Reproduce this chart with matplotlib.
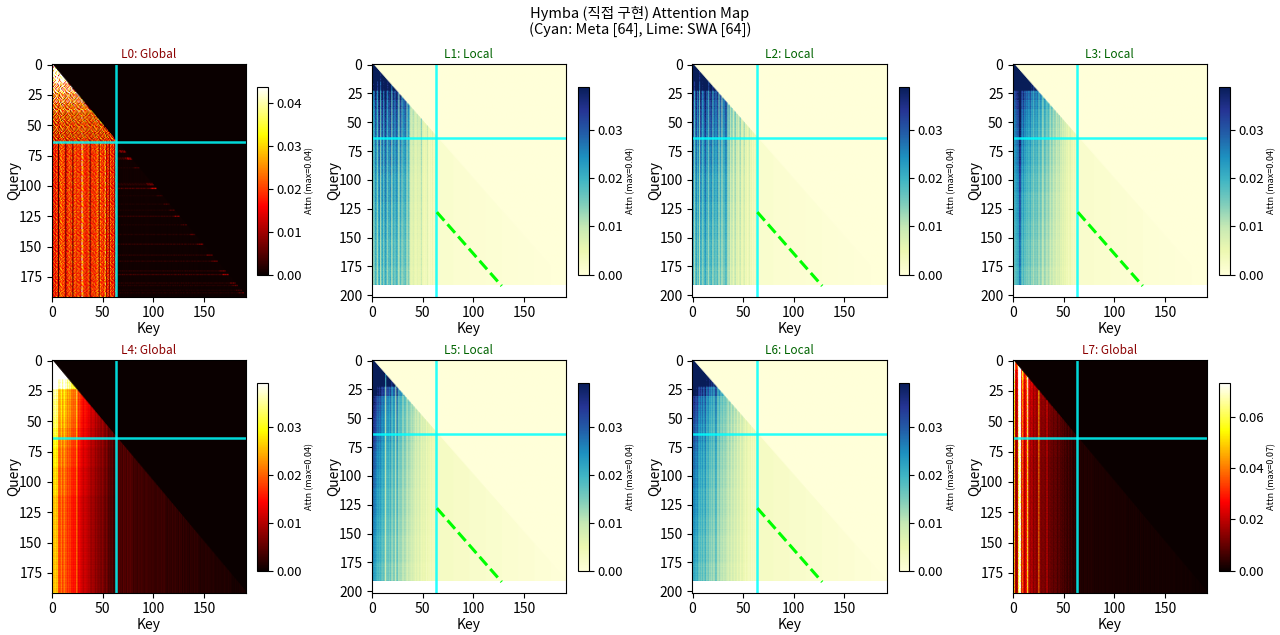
import numpy as np
import matplotlib
matplotlib.use("Agg")
import matplotlib.pyplot as plt

plt.rcParams['font.family'] = ['Noto Sans CJK KR', 'DejaVu Sans']

TOTAL = 192
META = 64
SWA = 64

titles = ["L0: Global", "L1: Local", "L2: Local", "L3: Local",
          "L4: Global", "L5: Local", "L6: Local", "L7: Global"]
kinds = ["G", "L", "L", "L", "G", "L", "L", "G"]
vmaxes = [0.0437, 0.0388, 0.0388, 0.0388, 0.0392, 0.0392, 0.0392, 0.0733]
max_labels = ["0.04", "0.04", "0.04", "0.04", "0.04", "0.04", "0.04", "0.07"]
cbar_ticks = [
    [0, .01, .02, .03, .04], [0, .01, .02, .03], [0, .01, .02, .03], [0, .01, .02, .03],
    [0, .01, .02, .03], [0, .01, .02, .03], [0, .01, .02, .03], [0, .02, .04, .06],
]

# Meta-column strength per key (x 0.001), read at mid-height of each panel
col_L0 = [20,18,21,17,22,19,3,22,24,25,21,23,20,8,18,21,22,24,20,23,7,19,25,22,18,24,20,21,15,38,26,19,
          21,17,20,22,24,6,18,23,20,22,19,21,26,24,8,27,20,22,18,24,30,10,19,21,9,25,20,18,22,12,20,16]
col_L1 = [22,16,18,24,20,14,24,26,12,22,25,16,23,27,20,15,24,21,26,11,20,24,17,22,25,19,9,21,24,13,20,18,
          22,21,10,19,17,8,7,6,9,7,6,5,8,6,7,5,12,6,5,4,5,4,8,4,3,4,3,5,3,3,4,3]
col_L2 = [20,24,14,22,25,18,23,12,26,22,16,20,24,27,19,21,13,24,22,25,14,20,23,18,21,24,11,19,22,9,20,17,
          21,24,19,8,18,7,10,12,6,8,14,7,9,6,8,12,6,5,7,10,5,6,4,5,8,4,5,3,4,3,4,3]
col_L3 = [16,20,22,23,24,25,33,31,22,20,24,19,21,18,20,17,19,21,15,18,13,20,16,17,19,12,16,18,14,9,15,17,
          13,12,14,15,8,12,13,9,10,12,7,10,8,11,7,9,6,8,6,7,5,6,4,5,6,4,4,3,4,3,3,3]
col_L4 = [28,27,27,28,26,27,19,19,20,23,18,21,23,19,20,17,20,17,19,15,17,15,17,15,24,13,14,15,12,13,11,11,
          13,11,12,10,11,10,8,10,9,10,7,9,8,7,8,7,6,8,7,6,5,7,6,4,5,4,4,5,3,3,4,3]
col_L5 = [30,29,28,27,25,23,24,22,24,21,20,22,18,8,21,19,20,17,22,14,16,20,17,8,23,18,11,17,14,16,8,15,
          13,14,7,13,11,12,8,11,9,10,6,9,8,6,9,8,5,7,6,6,7,4,6,5,5,4,5,4,4,4,3,3]
col_L6 = [24,26,27,25,24,26,21,20,22,19,23,18,21,24,16,19,20,15,18,14,19,13,17,22,18,11,15,16,10,14,13,10,
          14,11,12,8,11,12,7,10,11,7,9,10,6,8,9,5,7,8,6,6,4,6,5,4,4,5,3,4,3,4,3,3]
col_L7 = [30,46,18,14,20,60,75,68,20,38,24,16,22,30,56,18,20,14,20,16,12,18,14,13,16,40,12,14,10,15,11,13,
          9,23,9,11,12,8,12,7,10,9,11,6,8,10,7,8,6,8,5,7,6,4,7,5,4,6,4,3,5,3,4,3]
columns = [col_L0, col_L1, col_L2, col_L3, col_L4, col_L5, col_L6, col_L7]

# Strength of each 8-query block relative to the mid-height reading
rows_L0 = [3.5,3.0,1.8,1.35,1.15,1,.95,.9,.9,.9,.9,.9,.9,.9,.9,.9,.9,.9,.9,.9,.9,.9,.9,.9]
rows_L1 = [3,3,2.4,1.6,1.45,1.35,1.3,1.25,1.15,1.1,1.1,1.05,1,1,1,.95,.95,.9,.9,.85,.85,.85,.8,.8]
rows_L2 = [3,3,2.4,1.5,1.4,1.35,1.3,1.25,1.15,1.1,1.1,1.05,1,1,1,.95,.95,.9,.9,.85,.85,.85,.8,.8]
rows_L3 = [3,3,2.4,1.5,1.4,1.3,1.25,1.2,1.15,1.1,1.1,1.05,1,1,.95,.95,.95,.9,.9,.85,.85,.85,.8,.8]
rows_L4 = [3,3,1.9,1.3,1.25,1.25,1.2,1.15,1.1,1.05,1.05,1,1,1,.95,.95,.95,.95,.95,.95,.95,.95,.95,.95]
rows_L5 = [3,3,2.4,1.6,1.3,1.25,1.2,1.2,1.15,1.1,1.05,1.05,1,1,.95,.95,.95,.9,.9,.85,.85,.85,.8,.8]
rows_L6 = [3,3,2.4,1.6,1.3,1.25,1.2,1.15,1.15,1.1,1.05,1.05,1,1,.95,.95,.95,.9,.9,.85,.85,.85,.8,.8]
rows_L7 = [2,1.5,1.3,1.2,1.15,1.15,1.1,1.1,1.05,1.05,1,1,1,1,1,1,1,1,1,1,1,1,1,1]
row_scales = [rows_L0, rows_L1, rows_L2, rows_L3, rows_L4, rows_L5, rows_L6, rows_L7]
row_jitter = [1.03,.97,1.01,.96,1.04,.99,1.02,.97,1.0,1.03,.98]

# SWA/tail columns, per 16-key block (x 0.001)
tail_L0 = [.5,.5,.4,.4,.4,.3,.3,.3]
tail_L1 = [1.4,1.1,.9,.7,.6,.4,.25,.1]
tail_L2 = [1.4,1.1,.9,.7,.6,.4,.25,.1]
tail_L3 = [1.6,1.3,1.0,.8,.6,.4,.25,.1]
tail_L4 = [4,3.2,2.8,2.4,2,1.6,1.3,.8]
tail_L5 = [2.6,2.2,1.8,1.5,1.2,.8,.5,.2]
tail_L6 = [2.6,2.2,1.8,1.5,1.2,.8,.5,.2]
tail_L7 = [2.5,2,1.8,1.5,1.3,1.2,1,.7]
tails = [tail_L0, tail_L1, tail_L2, tail_L3, tail_L4, tail_L5, tail_L6, tail_L7]

# How strongly the cell-level speckle shows in each panel
speckle = [.8, .15, .12, .06, .04, .05, .05, .25]
L0_top_speckle = 1.5

# Cell-level speckle, read as a repeating patch from the L0 panel
texture = [
    [1.3,.7,1.1,.6,1.5,.9,1.2,.5,1.0,1.4,.8],
    [.8,1.2,.6,1.4,.9,1.1,.7,1.3,.6,1.0,1.5],
    [1.1,.5,1.4,1.0,.7,1.5,.9,.8,1.3,.6,1.2],
    [.6,1.3,.9,.7,1.2,.6,1.4,1.1,.8,1.5,.9],
    [1.4,1.0,.7,1.5,.8,1.3,.6,1.2,.9,.7,1.1],
    [.9,.6,1.2,.8,1.4,.7,1.0,1.5,.5,1.2,1.3],
    [1.2,1.5,.8,1.1,.6,1.0,1.3,.7,1.4,.9,.6],
    [.7,.9,1.3,.6,1.1,1.4,.8,1.0,1.2,.5,1.5],
    [1.5,.8,1.0,1.3,.7,.9,1.2,.6,1.1,1.4,.7],
    [.6,1.1,.7,1.2,1.5,.8,.5,1.3,1.0,.9,1.2],
    [1.0,1.4,.9,.5,1.0,1.2,1.1,.8,.7,1.3,.9],
    [1.3,.6,1.5,.9,.8,.6,1.4,1.0,1.2,.7,1.1],
    [.8,1.2,.7,1.4,1.1,1.3,.9,.6,1.5,1.0,.8],
]
tail_stripes = [1.15,.9,1.0,.75,1.2,.95,1.05,.8,1.25,.9,1.0]

# L0 faint horizontal streaks in the tail region
streak_rows = [71,72,77,78,85,98,99,102,108,115,120,125,132,140,148,157,162,170,173,180,182,186,188]
streak_vals = [2,2.5,3,2.5,1.2,1.5,2,4,1,1.2,1.2,2.5,1.2,1.5,2.5,2,2,2,3,2,1.5,1.2,1.5]
near_diagonal_boost = 3
L0_top_level = 20


def build(i):
    data = np.full((TOTAL, TOTAL), np.nan)
    col = np.array(columns[i], float)
    tail = np.repeat(np.array(tails[i], float), 16)
    strength = np.repeat(np.array(row_scales[i], float), 8)
    tex = np.array(texture, float)
    stripes = np.array(tail_stripes, float)
    for q in range(TOTAL):
        jitter = row_jitter[q % len(row_jitter)]
        for k in range(TOTAL):
            if k > q:
                data[q, k] = 0
                continue
            raw = tex[q % tex.shape[0], k % tex.shape[1]]
            t = 1 + speckle[i] * (raw - 1)
            if k < META:
                level = col[k]
                if i == 0 and q < META:
                    level = .25 * col[k] + .75 * L0_top_level
                    t = max(.2, 1 + L0_top_speckle * (raw - 1))
                data[q, k] = level * strength[q] * t * jitter
            else:
                v = tail[k - META]
                if kinds[i] == "G":
                    v = v * stripes[k % len(stripes)]
                data[q, k] = v
    if i == 0:
        for r, v in zip(streak_rows, streak_vals):
            for k in range(META, r + 1):
                boost = near_diagonal_boost if r - k < 6 else 1
                data[r, k] = v * boost * tex[r % 13, k % 11]
    return data * 0.001


fig = plt.figure(figsize=(12.8, 6.35), dpi=100)
W, H = 1280.0, 635.0
xs = [51.5, 371.5, 692.0, 1012.5]
ys = [64.0, 360.0]
cbx = [257.0, 578.0, 898.5, 1219.0]
for i in range(8):
    r, c = i // 4, i % 4
    ax = fig.add_axes([xs[c] / W, 1 - (ys[r] + 233) / H, 194.5 / W, 233 / H])
    cmap = 'hot' if kinds[i] == "G" else 'YlGnBu'
    im = ax.imshow(build(i), cmap=cmap, vmin=0, vmax=vmaxes[i], aspect='auto',
                   interpolation='bilinear')
    ax.axvline(META - .5, color='cyan', lw=1.8, alpha=.85)
    ax.axhline(META - .5, color='cyan', lw=1.8, alpha=.85)
    if kinds[i] == "L":
        ax.plot([META, META + SWA], [META + SWA, TOTAL], color='lime', ls='--', lw=2.2)
        ax.set_ylim(TOTAL * 1.05, -.5)
        ax.set_yticks([0, 25, 50, 75, 100, 125, 150, 175, 200])
    else:
        ax.set_ylim(TOTAL - .5, -.5)
        ax.set_yticks([0, 25, 50, 75, 100, 125, 150, 175])
    ax.set_xlim(-.5, TOTAL - .5)
    ax.set_xticks([0, 50, 100, 150])
    ax.tick_params(labelsize=10, length=3.5, pad=3)
    ax.set_xlabel("Key", fontsize=10, labelpad=1.2)
    ax.set_ylabel("Query", fontsize=10, labelpad=-1.5)
    ax.set_title(titles[i], fontsize=8.5, pad=4.5,
                 color='darkred' if kinds[i] == "G" else 'darkgreen')
    cax = fig.add_axes([cbx[c] / W, 1 - (ys[r] + 210.5) / H, 11 / W, 187.5 / H])
    cb = fig.colorbar(im, cax=cax, ticks=cbar_ticks[i], format='%.2f')
    cb.ax.tick_params(labelsize=9.5, length=3.5, pad=2.5)
    cb.set_label(f"Attn (max={max_labels[i]})", fontsize=6.5, labelpad=2.5)

fig.suptitle("Hymba (직접 구현) Attention Map\n(Cyan: Meta [64], Lime: SWA [64])",
             fontsize=10.5, y=0.99, linespacing=1.05)
fig.savefig("out.png", dpi=100)
